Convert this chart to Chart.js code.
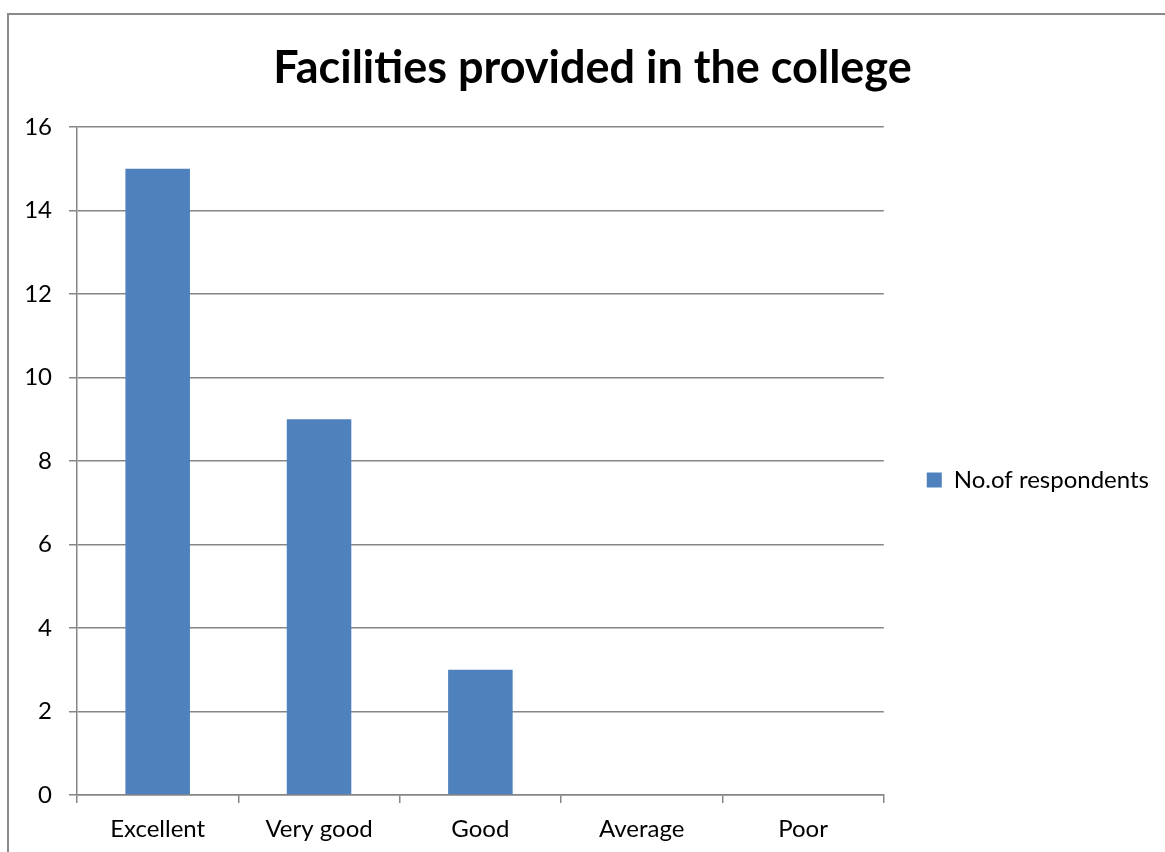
<!DOCTYPE html>
<html>
<head>
<meta charset="utf-8">
<script src="https://cdn.jsdelivr.net/npm/chart.js@4.4.1/dist/chart.umd.min.js"></script>
<style>
  html, body { margin: 0; padding: 0; background: #fff; overflow: hidden; }
  #frame {
    position: absolute; left: 7px; top: 13px; width: 1169px; height: 900px;
    border: 2px solid #8a8a8a; box-sizing: border-box;
  }
  #wrap { position: absolute; left: 8px; top: 14px; width: 1169px; height: 838px; }
</style>
</head>
<body>
<div id="frame"></div>
<div id="wrap"><canvas id="chart"></canvas></div>
<script>
const categories = ['Excellent', 'Very good', 'Good', 'Average', 'Poor'];
const respondents = [15, 9, 3, 0, 0];
const seriesName = 'No.of respondents';
const chartTitle = 'Facilities provided in the college';

const gridColor = '#868686';
const font = 'Lato';

const ctx = document.getElementById('chart').getContext('2d');
window.myChart = new Chart(ctx, {
    type: 'bar',
    data: {
        labels: categories,
        datasets: [{
            label: seriesName,
            data: respondents,
            backgroundColor: '#4F81BD',
            borderWidth: 0,
            categoryPercentage: 1,
            barPercentage: 0.4
        }]
    },
    options: {
        responsive: true,
        maintainAspectRatio: false,
        animation: false,
        layout: {
            padding: { left: 8, right: 8, top: 0, bottom: 0 }
        },
        scales: {
            x: {
                grid: {
                    display: true,
                    drawOnChartArea: false,
                    drawTicks: true,
                    tickLength: 8,
                    color: gridColor,
                    lineWidth: 1.5,
                    offset: true
                },
                border: { display: true, color: gridColor, width: 1.5 },
                ticks: {
                    color: '#000',
                    padding: 12,
                    font: { family: font, size: 24 }
                },
                afterFit: scale => { scale.height = 57; }
            },
            y: {
                min: 0,
                max: 16,
                ticks: {
                    stepSize: 2,
                    color: '#000',
                    padding: 17,
                    font: { family: font, size: 24 }
                },
                grid: {
                    color: gridColor,
                    lineWidth: 1.5,
                    tickLength: 8
                },
                border: { display: true, color: gridColor, width: 1.5 },
                afterFit: scale => { scale.width = 61; }
            },
            // empty spacer to the right of the legend
            gap: {
                position: 'right',
                weight: 5000,
                min: 0,
                max: 1,
                grid: { display: false },
                border: { display: false },
                ticks: { display: false },
                afterFit: scale => { scale.width = 10; }
            }
        },
        plugins: {
            title: {
                display: true,
                text: chartTitle,
                color: '#000',
                font: { family: font, size: 45, weight: 'bold' },
                padding: { top: 27, bottom: 32 }
            },
            legend: {
                display: true,
                position: 'right',
                fullSize: false,
                maxWidth: 320,
                title: {
                    display: true,
                    text: ' ',
                    font: { size: 10 },
                    padding: 13
                },
                labels: {
                    boxWidth: 15,
                    boxHeight: 15,
                    padding: 43,
                    color: '#000',
                    font: { family: font, size: 24 }
                }
            },
            tooltip: { enabled: false }
        }
    }
});
</script>
</body>
</html>
